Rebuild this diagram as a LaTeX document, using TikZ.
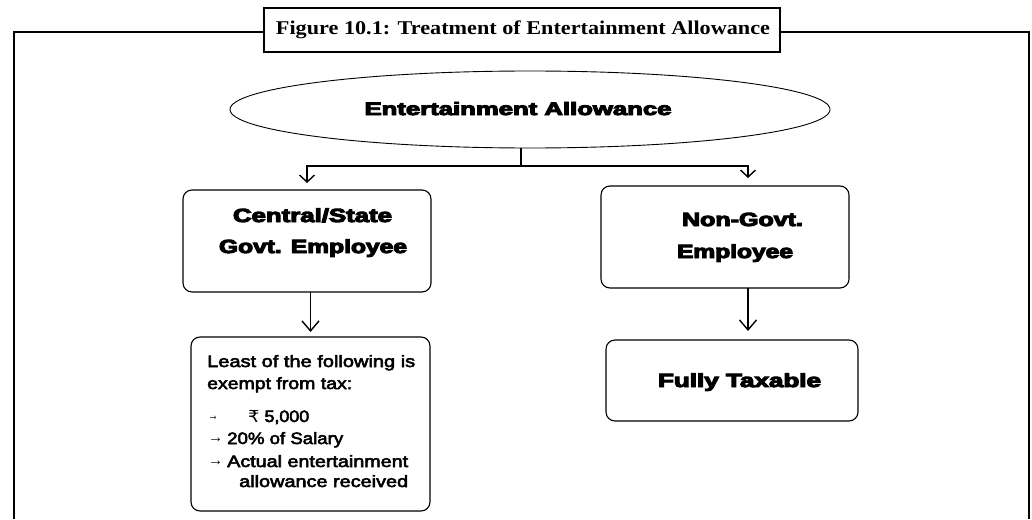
\documentclass[tikz,border=0pt]{standalone}
\usepackage{fontspec}
\setmainfont{Liberation Serif}
\newfontfamily\heavy[BoldFeatures={FakeBold=5}]{Liberation Sans}
\newfontfamily\plainsans[FakeBold=3]{Liberation Sans}
\newfontfamily\arrfont{Liberation Sans}
\newfontfamily\symfont{DejaVu Sans}
\usetikzlibrary{arrows.meta,shapes.geometric}
\newcommand\fitw[2]{\resizebox{#1}{\height}{#2}}
\newcommand\smallarr[1]{{\arrfont\fontsize{16}{16}\selectfont\raisebox{2pt}{\fitw{#1}{→}}}}
\tikzset{
  frameline/.style={line width=2pt, line join=miter},
  titlebox/.style={draw, line width=2.4pt, fill=white, inner sep=0pt, outer sep=0pt, minimum width=516pt, minimum height=44pt},
  topell/.style={draw, ellipse, line width=0.9pt, inner sep=0pt, outer sep=0pt, minimum width=600pt, minimum height=77pt},
  ebox/.style={draw, rounded corners=9pt, line width=1.1pt, inner sep=0pt, outer sep=0pt},
  tconn/.style={line width=2.6pt, line join=miter},
  tarrow/.style={line width=2.6pt, line join=miter, -{Straight Barb[width=15pt,length=7pt,line width=1.4pt]}},
  darrow/.style={line width=1.5pt, -{Straight Barb[width=17pt,length=10pt,line width=1.4pt]}},
  heavytxt/.style={inner sep=0pt, anchor=base, font=\heavy\bfseries\fontsize{19}{21}\selectfont},
  listtxt/.style={inner sep=0pt, anchor=base west, font=\plainsans\fontsize{16.5}{18}\selectfont},
}
\begin{document}
\begin{tikzpicture}[x=1pt,y=-1pt]
\useasboundingbox[fill=white] (0,0) rectangle (1032,519);
% outer frame
\draw[frameline] (14,519) -- (14,32) -- (1029,32) -- (1029,519);
% title
\node[titlebox] (title) at (522,30) {};
\node[inner sep=0pt, anchor=base, font=\bfseries\fontsize{19.5}{21}\selectfont] (titletext) at (523,35)
  {\fitw{494pt}{Figure 10.1: Treatment of Entertainment Allowance}};
% ellipse
\node[topell] (ell) at (530,109.5) {};
\node[heavytxt, font=\heavy\bfseries\fontsize{18}{20}\selectfont] (elltext) at (518,115) {\fitw{307pt}{Entertainment Allowance}};
% boxes
\node[ebox, minimum width=248pt, minimum height=102pt] (b1) at (307,241) {};
\node[ebox, minimum width=248pt, minimum height=102pt] (b2) at (725,237) {};
\node[ebox, minimum width=239pt, minimum height=174pt] (b3) at (310.5,424) {};
\node[ebox, minimum width=252pt, minimum height=81pt] (b4) at (732,380.5) {};
% box texts
\node[heavytxt] (b1a) at (312.5,222) {\fitw{159pt}{Central/State}};
\node[heavytxt] (b1b) at (313,253) {\fitw{188pt}{Govt. Employee}};
\node[heavytxt] (b2a) at (742.5,226) {\fitw{121pt}{Non-Govt.}};
\node[heavytxt] (b2b) at (735,258) {\fitw{116pt}{Employee}};
\node[heavytxt] (b4a) at (739.5,387) {\fitw{163pt}{Fully Taxable}};
% list text
\node[listtxt] (l1) at (207,367) {\fitw{208pt}{Least of the following is}};
\node[listtxt] (l2) at (207,389) {\fitw{145pt}{exempt from tax:}};
\node[listtxt] (l3a) at (208,422) {\smallarr{10pt}};
\node[listtxt] (l3b) at (248,422) {\fitw{61pt}{{\symfont ₹} 5,000}};
\node[listtxt] (l4a) at (208,444) {\smallarr{15pt}};
\node[listtxt] (l4b) at (227,444) {\fitw{116pt}{20\% of Salary}};
\node[listtxt] (l5a) at (208,467) {\smallarr{15pt}};
\node[listtxt] (l5b) at (227,467) {\fitw{181pt}{Actual entertainment}};
\node[listtxt] (l6) at (239,487) {\fitw{169pt}{allowance received}};
% connectors
\coordinate (j) at (521,166);
\draw[tconn] ([xshift=-9pt]ell.south) -- (j);
\draw[tarrow, shorten >=7pt] (j) -| (b1.north);
\draw[tarrow, shorten >=8pt] (j) -| ([xshift=23pt]b2.north);
\draw[darrow, shorten >=5pt] (b1.south -| b3.north) -- (b3.north);
\draw[darrow, shorten >=9pt] ([xshift=23pt]b2.south) -- ([xshift=23pt]b2.south |- b4.north);
\end{tikzpicture}
\end{document}
